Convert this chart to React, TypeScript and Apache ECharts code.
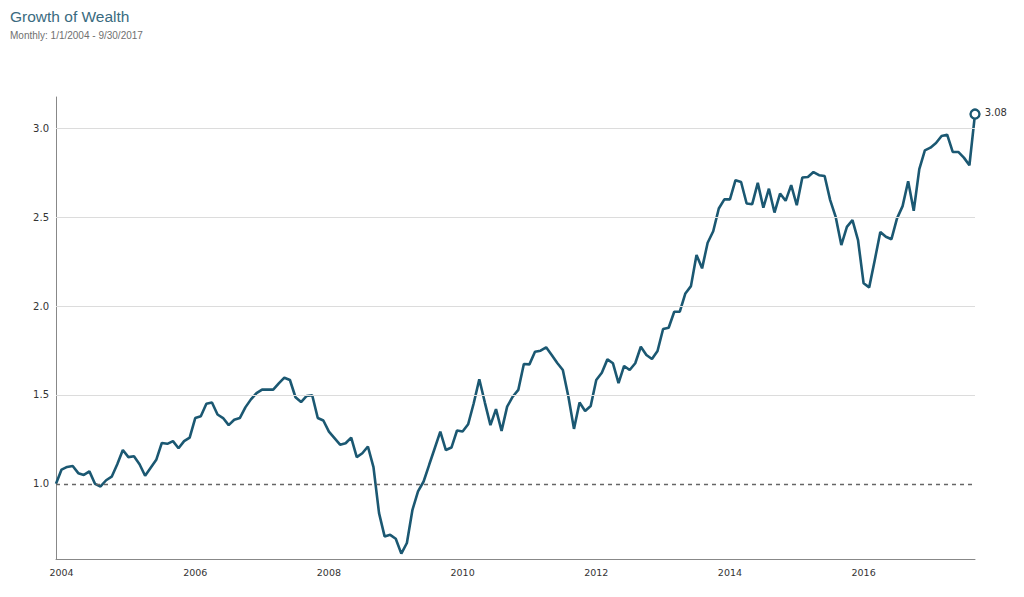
import React, { useEffect, useRef } from "react";
import * as echarts from "echarts";

const TITLE = "Growth of Wealth";
const SUBTITLE = "Monthly: 1/1/2004 - 9/30/2017";

// Month-end categories: 2003-12 (start value) through 2017-09
const months: string[] = [];
for (let y = 2003; y <= 2017; y++) {
  for (let m = 1; m <= 12; m++) {
    if (y === 2003 && m < 12) continue;
    if (y === 2017 && m > 9) continue;
    months.push(`${y}-${m < 10 ? "0" + m : m}`);
  }
}

const wealth: number[] = [
  1.0, 1.08, 1.095, 1.1, 1.06, 1.05, 1.07, 1.0, 0.985, 1.02,
  1.04, 1.11, 1.19, 1.15, 1.155, 1.11, 1.045, 1.09, 1.135, 1.23,
  1.225, 1.24, 1.2, 1.24, 1.26, 1.37, 1.38, 1.45, 1.457, 1.39,
  1.37, 1.33, 1.36, 1.37, 1.43, 1.475, 1.51, 1.53, 1.53, 1.53,
  1.565, 1.597, 1.584, 1.487, 1.46, 1.494, 1.498, 1.37, 1.356, 1.294,
  1.257, 1.22, 1.228, 1.26, 1.15, 1.172, 1.21, 1.094, 0.835, 0.704,
  0.713, 0.691, 0.607, 0.667, 0.854, 0.957, 1.013, 1.107, 1.2, 1.294,
  1.19, 1.204, 1.3, 1.294, 1.335, 1.453, 1.588, 1.457, 1.33, 1.42,
  1.298, 1.434, 1.49, 1.528, 1.674, 1.672, 1.743, 1.749, 1.768, 1.725,
  1.68, 1.64, 1.49, 1.309, 1.457, 1.41, 1.438, 1.584, 1.625, 1.7,
  1.678, 1.566, 1.663, 1.64, 1.678, 1.771, 1.725, 1.702, 1.747, 1.871,
  1.878, 1.968, 1.968, 2.071, 2.112, 2.287, 2.212, 2.356, 2.421, 2.549,
  2.6, 2.6, 2.708, 2.698, 2.577, 2.573, 2.693, 2.553, 2.66, 2.526,
  2.633, 2.592, 2.68, 2.567, 2.723, 2.726, 2.754, 2.736, 2.732, 2.596,
  2.5, 2.343, 2.445, 2.483, 2.371, 2.128, 2.105, 2.258, 2.417, 2.39,
  2.376, 2.493, 2.562, 2.702, 2.536, 2.77, 2.876, 2.891, 2.917, 2.957,
  2.964, 2.867, 2.867, 2.835, 2.792, 3.08,
];

const gridValues: number[] = [1.5, 2.0, 2.5, 3.0];
const baseline = 1.0;
const Y_MIN = 0.577;
const Y_MAX = 3.176;

const LINE_COLOR = "#1b5872";

export default function App() {
  const ref = useRef<HTMLDivElement>(null);

  useEffect(() => {
    if (!ref.current) return;
    const chart = echarts.init(ref.current, undefined, { renderer: "svg" });
    const last = wealth.length - 1;

    chart.setOption({
      animation: false,
      backgroundColor: "#ffffff",
      graphic: [
        {
          type: "text",
          left: 10,
          top: 8,
          style: {
            text: TITLE,
            fill: "#3a6b80",
            font: "15.5px 'Liberation Sans', Arial, sans-serif",
          },
        },
        {
          type: "text",
          left: 10,
          top: 30,
          style: {
            text: SUBTITLE,
            fill: "#707070",
            font: "10px 'Liberation Sans', Arial, sans-serif",
          },
        },
      ],
      grid: { left: 56, right: 49, top: 97, bottom: 38, containLabel: false },
      xAxis: {
        type: "category",
        data: months,
        boundaryGap: false,
        axisLine: { lineStyle: { color: "#888", width: 1 } },
        axisTick: { show: false },
        splitLine: { show: false },
        axisLabel: {
          interval: (idx: number, val: string) => {
            const parts = val.split("-");
            return parts[1] === "01" && Number(parts[0]) % 2 === 0;
          },
          formatter: (val: string) => val.slice(0, 4),
          color: "#333",
          fontFamily: "DejaVu Sans",
          fontSize: 9.5,
          margin: 8,
        },
      },
      yAxis: {
        type: "value",
        min: Y_MIN,
        max: Y_MAX,
        axisLine: { show: true, lineStyle: { color: "#888", width: 1 } },
        axisTick: { show: false },
        splitLine: { show: false },
        axisLabel: {
          showMinLabel: false,
          showMaxLabel: false,
          formatter: (v: number) =>
            Math.abs(v * 2 - Math.round(v * 2)) < 1e-6 ? v.toFixed(1) : "",
          color: "#333",
          fontFamily: "DejaVu Sans",
          fontSize: 10,
          margin: 7,
        },
      },
      series: [
        {
          name: "grid",
          type: "line",
          data: [],
          z: 1,
          silent: true,
          markLine: {
            silent: true,
            symbol: "none",
            label: { show: false },
            animation: false,
            data: [
              ...gridValues.map((g) => ({
                yAxis: g,
                lineStyle: { color: "#dcdcdc", width: 1, type: "solid" },
              })),
              {
                yAxis: baseline,
                lineStyle: { color: "#666", width: 1.3, type: [4, 4] },
              },
            ],
          },
        },
        {
          name: "Growth of Wealth",
          type: "line",
          data: wealth,
          z: 3,
          showSymbol: false,
          lineStyle: { color: LINE_COLOR, width: 2.6 },
          itemStyle: { color: LINE_COLOR },
          silent: true,
        },
        {
          name: "Last",
          type: "scatter",
          z: 4,
          silent: true,
          data: [[months[last], wealth[last]]],
          symbol: "circle",
          symbolSize: 9,
          itemStyle: {
            color: "#ffffff",
            borderColor: LINE_COLOR,
            borderWidth: 2.4,
            opacity: 1,
          },
          label: {
            show: true,
            position: "right",
            distance: 4,
            formatter: () => wealth[last].toFixed(2),
            color: "#333333",
            fontFamily: "DejaVu Sans",
            fontSize: 10,
            offset: [0, -2],
          },
        },
      ],
    });
    return () => chart.dispose();
  }, []);

  return (
    <div
      ref={ref}
      style={{ position: "fixed", left: 0, top: 0, width: 1024, height: 597 }}
    />
  );
}
